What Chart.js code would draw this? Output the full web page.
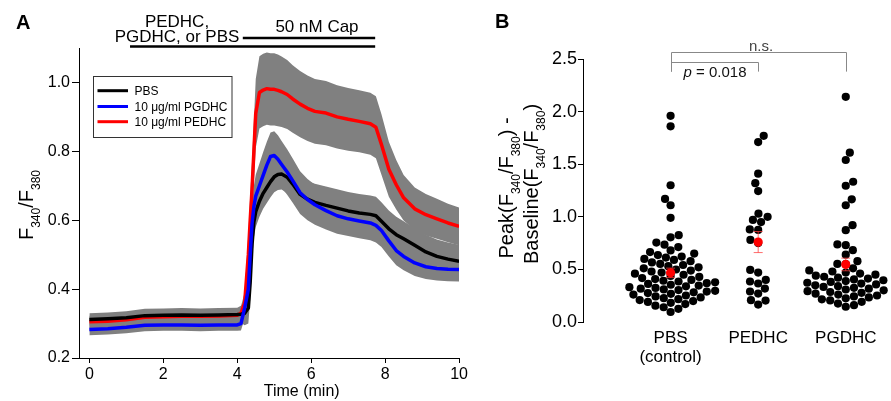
<!DOCTYPE html>
<html><head><meta charset="utf-8">
<script src="https://cdn.jsdelivr.net/npm/chart.js@4.4.0/dist/chart.umd.min.js"></script>
<style>
html,body{margin:0;padding:0;background:#fff;}
#wrap{position:relative;width:891px;height:401px;overflow:hidden;background:#fff;}
#cA{position:absolute;left:0;top:0;}
#cB{position:absolute;left:480px;top:0;}
</style></head><body>
<div id="wrap">
<canvas id="cA" width="470" height="401"></canvas>
<canvas id="cB" width="411" height="401"></canvas>
</div>
<script>
// ---------------- Panel A data ----------------
const timeMin = [0,0.5,1,1.5,2,2.5,3,3.5,4,4.1,4.2,4.3,4.35,4.4,4.45,4.5,4.6,4.7,4.8,4.9,5,5.1,5.2,5.35,5.5,5.7,5.9,6.1,6.4,6.7,7,7.3,7.6,7.75,7.9,8.1,8.3,8.5,8.8,9.1,9.4,9.7,10];
const pbsMean = [0.312,0.314,0.317,0.323,0.324,0.325,0.324,0.325,0.326,
  0.327,0.330,0.345,0.420,0.530,0.595,0.625,
  0.655,0.678,0.695,0.712,0.726,
  0.733,0.734,0.725,0.705,0.675,0.661,
  0.652,0.643,0.635,0.627,0.621,0.617,
  0.613,0.597,0.575,0.558,0.546,0.527,
  0.508,0.495,0.487,0.481];
const pbsSem = [0.018,0.018,0.019,0.020,0.020,0.020,0.020,0.020,0.020,
  0.025,0.035,0.045,0.050,0.050,0.045,0.045,
  0.045,0.045,0.045,0.045,0.045,
  0.045,0.045,0.047,0.050,0.052,0.053,
  0.054,0.055,0.055,0.055,0.055,0.055,
  0.055,0.055,0.053,0.052,0.051,0.050,
  0.050,0.049,0.048,0.048];
const pgdhcMean = [0.283,0.285,0.289,0.295,0.296,0.296,0.295,0.296,0.296,
  0.300,0.345,0.400,0.500,0.590,0.640,0.670,
  0.700,0.730,0.760,0.785,0.788,
  0.777,0.762,0.740,0.715,0.680,0.660,
  0.645,0.628,0.613,0.604,0.598,0.592,
  0.585,0.570,0.540,0.512,0.495,0.476,
  0.465,0.460,0.458,0.457];
const pgdhcSem = [0.017,0.017,0.017,0.017,0.017,0.017,0.017,0.017,0.017,
  0.020,0.030,0.040,0.050,0.055,0.060,0.062,
  0.065,0.067,0.068,0.070,0.070,
  0.070,0.068,0.066,0.064,0.062,0.060,
  0.058,0.055,0.052,0.050,0.050,0.050,
  0.050,0.048,0.045,0.043,0.040,0.038,
  0.036,0.035,0.035,0.035];
const pedhcMean = [0.305,0.307,0.311,0.318,0.320,0.321,0.321,0.322,0.324,
  0.330,0.360,0.500,0.600,0.690,0.800,0.910,
  0.971,0.978,0.982,0.980,0.980,
  0.977,0.973,0.965,0.952,0.937,0.925,
  0.916,0.911,0.900,0.893,0.887,0.880,
  0.870,0.820,0.748,0.703,0.665,0.633,
  0.616,0.604,0.592,0.582];
const pedhcSem = [0.018,0.018,0.018,0.018,0.018,0.018,0.018,0.018,0.018,
  0.020,0.030,0.060,0.070,0.080,0.090,0.100,
  0.105,0.105,0.105,0.105,0.105,
  0.104,0.102,0.100,0.098,0.096,0.095,
  0.094,0.093,0.092,0.091,0.090,0.090,
  0.090,0.088,0.080,0.072,0.066,0.062,
  0.060,0.058,0.056,0.055];
const seriesLabels = ['PBS', '10 \u03bcg/ml PGDHC', '10 \u03bcg/ml PEDHC'];
const xTicksA = [0,2,4,6,8,10];
const yTicksA = [0.2,0.4,0.6,0.8,1.0];
const treatmentPeriod = [1.1, 7.73];
const capPeriod = [4.15, 7.73];

// ---------------- Panel B data ----------------
const groupLabels = [['PBS','(control)'], 'PEDHC', 'PGDHC'];
const pbsPeak = [1.96,1.86,1.30,1.17,1.11,0.99,
  0.825,0.805,
  0.755,0.735,0.712,
  0.680,0.665,0.650,0.636,0.622,
  0.612,0.600,0.590,0.578,0.566,
  0.552,0.542,0.531,0.520,0.510,0.499,0.489,
  0.480,0.470,0.459,0.449,0.438,0.428,0.418,
  0.408,0.400,0.392,0.385,0.377,0.369,0.362,0.354,0.346,0.339,
  0.331,0.324,0.317,0.310,0.303,0.296,0.289,0.282,0.275,0.268,0.261,
  0.252,0.243,0.234,0.226,0.217,0.208,0.199,0.191,0.182,
  0.170,0.155,0.140,0.125,
  0.095];
const pedhcPeak = [1.77,1.71,1.41,1.32,1.245,1.03,1.00,0.97,0.95,0.88,0.875,0.78,0.75,
  0.495,0.47,0.40,0.385,0.366,0.318,0.29,0.27,0.207,0.204,0.166];
const pgdhcPeak = [2.14,1.61,1.54,1.333,1.295,1.166,1.11,0.92,0.873,0.737,0.73,0.683,0.64,0.578,0.552,0.55,0.51,
  0.490,0.480,0.470,0.460,0.450,0.440,0.430,
  0.421,0.413,0.405,0.397,0.389,0.381,0.373,0.365,0.357,0.349,0.341,
  0.333,0.325,0.317,0.309,0.301,0.293,0.285,0.277,0.269,0.261,
  0.252,0.243,0.234,0.225,0.216,
  0.205,0.192,
  0.175,0.160,0.145];
const groupMeans = [0.467, 0.76, 0.547];
const groupSems = [0.045, 0.10, 0.06];
const yTicksB = [0,0.5,1.0,1.5,2.0,2.5];
const comparisons = [
  {from:1, to:2, level:2.467, drop:2.38, label:'p = 0.018', italicFirst:true},
  {from:1, to:3, level:2.562, drop:2.38, label:'n.s.'}
];

// ---------------- common ----------------
const FONT = "'Liberation Sans', Arial, Helvetica, sans-serif";
Chart.defaults.font.family = FONT;
Chart.defaults.color = '#000';
Chart.defaults.animation = false;

function drawRich(ctx, parts, x, y, mainSize, subSize, subShift, align) {
  const f = s => s + 'px ' + FONT;
  let w = 0;
  for (const p of parts) { ctx.font = f(p.s ? subSize : mainSize); w += ctx.measureText(p.t).width; }
  let cx = align === 'center' ? x - w / 2 : x;
  ctx.textAlign = 'left'; ctx.textBaseline = 'alphabetic';
  for (const p of parts) {
    ctx.font = f(p.s ? subSize : mainSize);
    ctx.fillText(p.t, cx, y + (p.s ? subShift : 0));
    cx += ctx.measureText(p.t).width;
  }
}
const ratioParts = (pre, post) => [
  ...(pre ? [{t:pre}] : []), {t:'F'}, {t:'340', s:true}, {t:'/F'}, {t:'380', s:true}, ...(post ? [{t:post}] : [])
];

// ---------------- Panel A ----------------
const lineDs = (vals, color, order) => ({
  data: vals.map((v, i) => ({x: timeMin[i], y: v})),
  borderColor: color, borderWidth: 3.5, pointRadius: 0, fill: false, tension: 0,
  borderJoinStyle: 'round', order
});
const bandDs = (vals, sems, sign, fill) => ({
  data: vals.map((v, i) => ({x: timeMin[i], y: v + sign * sems[i]})),
  borderColor: 'rgba(0,0,0,0)', borderWidth: 1, pointRadius: 0, tension: 0,
  fill: fill ? '-1' : false, backgroundColor: '#808080', order: 10
});

const annotA = {
  id: 'annotA',
  afterDraw(chart) {
    const {ctx, scales: {x}} = chart;
    ctx.save();
    ctx.fillStyle = '#000';
    ctx.font = 'bold 20px ' + FONT; ctx.textAlign = 'left'; ctx.textBaseline = 'alphabetic';
    ctx.fillText('A', 16, 29);
    ctx.strokeStyle = '#000'; ctx.lineWidth = 2.5;
    ctx.beginPath();
    ctx.moveTo(x.getPixelForValue(treatmentPeriod[0]), 46.5); ctx.lineTo(x.getPixelForValue(treatmentPeriod[1]), 46.5);
    ctx.moveTo(x.getPixelForValue(capPeriod[0]), 38); ctx.lineTo(x.getPixelForValue(capPeriod[1]), 38);
    ctx.stroke();
    ctx.font = '17px ' + FONT; ctx.textAlign = 'center';
    ctx.fillText('PEDHC,', 177, 26.5);
    ctx.fillText('PGDHC, or PBS', 177, 41.5);
    ctx.fillText('50 nM Cap', (x.getPixelForValue(capPeriod[0]) + x.getPixelForValue(capPeriod[1])) / 2 + 8, 31.5);
    // legend
    ctx.lineWidth = 1; ctx.strokeStyle = '#333';
    ctx.strokeRect(93.5, 76.5, 138.5, 61);
    const cols = ['#000000', '#0000ff', '#ff0000'];
    const ly = [90.7, 106.5, 121.7];
    ctx.font = '12px ' + FONT; ctx.textAlign = 'left';
    seriesLabels.forEach((lab, i) => {
      ctx.strokeStyle = cols[i]; ctx.lineWidth = 3;
      ctx.beginPath(); ctx.moveTo(97.5, ly[i]); ctx.lineTo(128, ly[i]); ctx.stroke();
      ctx.fillStyle = '#000'; ctx.fillText(lab, 134.5, ly[i] + 4.3);
    });
    // axis titles
    ctx.save();
    ctx.translate(33, 205); ctx.rotate(-Math.PI / 2);
    drawRich(ctx, ratioParts(), 0, 0, 20, 12, 7, 'center');
    ctx.restore();
    ctx.font = '16px ' + FONT; ctx.textAlign = 'center'; ctx.textBaseline = 'alphabetic';
    ctx.fillText('Time (min)', 301.7, 395.5);
    ctx.restore();
  }
};

const tickGrid = (len) => ({drawOnChartArea: false, drawTicks: true, tickLength: len, color: '#000', lineWidth: 1});

new Chart(document.getElementById('cA'), {
  type: 'line',
  data: {datasets: [
    bandDs(pedhcMean, pedhcSem, -1, false), bandDs(pedhcMean, pedhcSem, 1, true),
    bandDs(pbsMean, pbsSem, -1, false), bandDs(pbsMean, pbsSem, 1, true),
    bandDs(pgdhcMean, pgdhcSem, -1, false), bandDs(pgdhcMean, pgdhcSem, 1, true),
    lineDs(pedhcMean, '#ff0000', 3),
    lineDs(pbsMean, '#000000', 2),
    lineDs(pgdhcMean, '#0000ff', 1)
  ]},
  options: {
    responsive: false, animation: false, events: [],
    layout: {padding: {left: 0, right: 10, top: 48, bottom: 0}},
    plugins: {legend: {display: false}, tooltip: {enabled: false}, filler: {drawTime: 'beforeDatasetsDraw'}},
    scales: {
      x: {type: 'linear', min: -0.28, max: 10,
        afterBuildTicks: s => { s.ticks = xTicksA.map(v => ({value: v})); },
        afterFit: s => { s.height = 43; },
        ticks: {font: {size: 16}, color: '#000', padding: 2, maxRotation: 0, callback: v => String(v)},
        grid: tickGrid(5), border: {display: true, color: '#000', width: 1}},
      y: {type: 'linear', min: 0.2, max: 1.1,
        afterBuildTicks: s => { s.ticks = yTicksA.map(v => ({value: v})); },
        afterFit: s => { s.width = 79; },
        ticks: {font: {size: 16}, color: '#000', padding: 2, callback: v => Number(v).toFixed(1)},
        grid: tickGrid(7), border: {display: true, color: '#000', width: 1}}
    }
  },
  plugins: [annotA]
});

// ---------------- Panel B ----------------
const DOT_R = 4.1, DOT_D = 8.4;
function swarm(values, yPix, d) {
  const order = values.map((v, i) => i).sort((a, b) => values[a] - values[b]);
  const placed = [], offs = new Array(values.length);
  let flip = 1;
  for (const i of order) {
    const y = yPix(values[i]);
    const near = placed.filter(p => Math.abs(p.y - y) < d);
    const cands = [0];
    for (const p of near) { const dx = Math.sqrt(d * d - (p.y - y) ** 2); cands.push(p.x + dx, p.x - dx); }
    cands.sort((a, b) => (Math.abs(a) - Math.abs(b)) || (flip * (a - b)));
    let best = 0;
    for (const c of cands) {
      if (near.every(p => (p.x - c) ** 2 + (p.y - y) ** 2 >= d * d - 1e-6)) { best = c; break; }
    }
    flip = -flip;
    placed.push({x: best, y}); offs[i] = best;
  }
  return offs;
}

const annotB = {
  id: 'annotB',
  beforeDatasetDraw(chart, args) {
    if (args.index !== 1) return;
    const {ctx, scales: {x, y}} = chart;
    ctx.save();
    ctx.strokeStyle = 'rgba(255,60,60,0.75)'; ctx.lineWidth = 1;
    groupMeans.forEach((m, g) => {
      const px = x.getPixelForValue(g + 1);
      const t = y.getPixelForValue(m + groupSems[g]), b = y.getPixelForValue(m - groupSems[g]);
      ctx.beginPath();
      ctx.moveTo(px, t); ctx.lineTo(px, b);
      ctx.moveTo(px - 4.5, t); ctx.lineTo(px + 4.5, t);
      ctx.moveTo(px - 4.5, b); ctx.lineTo(px + 4.5, b);
      ctx.stroke();
    });
    ctx.restore();
  },
  afterDraw(chart) {
    const {ctx, scales: {x, y}} = chart;
    ctx.save();
    ctx.fillStyle = '#000';
    ctx.font = 'bold 20px ' + FONT; ctx.textAlign = 'left'; ctx.textBaseline = 'alphabetic';
    ctx.fillText('B', 15, 28);
    comparisons.forEach(c => {
      const x1 = Math.round(x.getPixelForValue(c.from)) + 0.5, x2 = Math.round(x.getPixelForValue(c.to)) + 0.5;
      const yl = Math.round(y.getPixelForValue(c.level)) + 0.5, yd = y.getPixelForValue(c.drop);
      ctx.strokeStyle = '#888'; ctx.lineWidth = 1;
      ctx.beginPath(); ctx.moveTo(x1, yd); ctx.lineTo(x1, yl); ctx.lineTo(x2, yl); ctx.lineTo(x2, yd); ctx.stroke();
      const cx = (x1 + x2) / 2;
      if (c.italicFirst) {
        ctx.fillStyle = '#111';
        ctx.font = 'italic 15px ' + FONT;
        const pW = ctx.measureText('p').width;
        ctx.font = '15px ' + FONT;
        const restW = ctx.measureText(' = 0.018').width;
        const sx = cx - (pW + restW) / 2;
        ctx.textAlign = 'left';
        ctx.font = 'italic 15px ' + FONT; ctx.fillText('p', sx, yl + 14);
        ctx.font = '15px ' + FONT; ctx.fillText(' = 0.018', sx + pW, yl + 14);
      } else {
        ctx.fillStyle = '#444';
        ctx.font = '15px ' + FONT; ctx.textAlign = 'center';
        ctx.fillText(c.label, cx + 2, yl - 2);
      }
    });
    ctx.fillStyle = '#000';
    ctx.save(); ctx.translate(32.5, 188); ctx.rotate(-Math.PI / 2);
    drawRich(ctx, ratioParts('Peak(', ') -'), 0, 0, 20, 12, 7, 'center');
    ctx.restore();
    ctx.save(); ctx.translate(57.5, 184); ctx.rotate(-Math.PI / 2);
    drawRich(ctx, ratioParts('Baseline(', ')'), 0, 0, 20, 12, 7, 'center');
    ctx.restore();
    ctx.restore();
  }
};

const peakGroups = [pbsPeak, pedhcPeak, pgdhcPeak];
const chartB = new Chart(document.getElementById('cB'), {
  type: 'scatter',
  data: {datasets: [
    {data: peakGroups.flatMap((vals, g) => vals.map(v => ({x: g + 1, y: v}))),
      backgroundColor: '#000', borderWidth: 0, pointRadius: DOT_R, order: 2, clip: false},
    {data: groupMeans.map((m, g) => ({x: g + 1, y: m})),
      backgroundColor: '#ff0000', borderWidth: 0, pointRadius: 4.6, order: 1, clip: false}
  ]},
  options: {
    responsive: false, animation: false, events: [],
    layout: {padding: {left: 0, right: 0, top: 59, bottom: 0}},
    plugins: {legend: {display: false}, tooltip: {enabled: false}},
    scales: {
      x: {type: 'linear', min: 0, max: 3.464,
        afterBuildTicks: s => { s.ticks = groupLabels.map((l, i) => ({value: i + 1})); },
        afterFit: s => { s.height = 79; },
        ticks: {font: {size: 17, lineHeight: 1.1}, color: '#000', padding: 7, maxRotation: 0, autoSkip: false,
          callback: (v, i) => groupLabels[i]},
        grid: {display: false, drawTicks: false}, border: {display: false}},
      y: {type: 'linear', min: 0, max: 2.5,
        afterBuildTicks: s => { s.ticks = yTicksB.map(v => ({value: v})); },
        afterFit: s => { s.width = 103; },
        ticks: {font: {size: 18}, color: '#000', padding: 1, callback: v => Number(v).toFixed(1)},
        grid: tickGrid(5), border: {display: true, color: '#000', width: 1}}
    }
  },
  plugins: [annotB]
});

(function applySwarm() {
  const xs = chartB.scales.x, ys = chartB.scales.y;
  const pxPerUnit = xs.getPixelForValue(1) - xs.getPixelForValue(0);
  const pts = [];
  peakGroups.forEach((vals, g) => {
    const offs = swarm(vals, v => ys.getPixelForValue(v), DOT_D);
    vals.forEach((v, i) => pts.push({x: g + 1 + offs[i] / pxPerUnit, y: v}));
  });
  chartB.data.datasets[0].data = pts;
  chartB.update('none');
})();
</script>
</body></html>
